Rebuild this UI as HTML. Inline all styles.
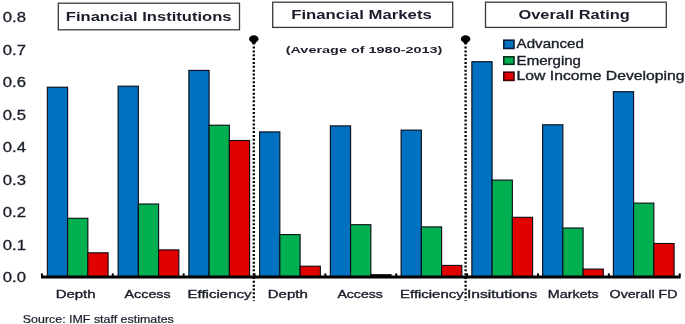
<!DOCTYPE html>
<html><head><meta charset="utf-8"><style>
html,body{margin:0;padding:0;background:#fff;}
body{width:685px;height:324px;overflow:hidden;position:relative;font-family:"Liberation Sans",sans-serif;}
svg{position:absolute;left:0;top:0;filter:blur(0.35px);}
text{font-family:"Liberation Sans",sans-serif;fill:#1a1e2a;}
</style></head><body>
<svg width="685" height="324" viewBox="0 0 685 324">

<rect x="47.35" y="87.20" width="20.25" height="189.30" fill="#0070C0" stroke="#0a0a14" stroke-width="1.1"/>
<rect x="67.60" y="218.30" width="20.25" height="58.20" fill="#00B050" stroke="#0a0a14" stroke-width="1.1"/>
<rect x="87.85" y="252.80" width="20.25" height="23.70" fill="#E00000" stroke="#0a0a14" stroke-width="1.1"/>
<rect x="118.10" y="86.20" width="20.25" height="190.30" fill="#0070C0" stroke="#0a0a14" stroke-width="1.1"/>
<rect x="138.35" y="204.00" width="20.25" height="72.50" fill="#00B050" stroke="#0a0a14" stroke-width="1.1"/>
<rect x="158.60" y="249.90" width="20.25" height="26.60" fill="#E00000" stroke="#0a0a14" stroke-width="1.1"/>
<rect x="188.85" y="70.40" width="20.25" height="206.10" fill="#0070C0" stroke="#0a0a14" stroke-width="1.1"/>
<rect x="209.10" y="125.20" width="20.25" height="151.30" fill="#00B050" stroke="#0a0a14" stroke-width="1.1"/>
<rect x="229.35" y="140.50" width="20.25" height="136.00" fill="#E00000" stroke="#0a0a14" stroke-width="1.1"/>
<rect x="259.60" y="131.90" width="20.25" height="144.60" fill="#0070C0" stroke="#0a0a14" stroke-width="1.1"/>
<rect x="279.85" y="234.60" width="20.25" height="41.90" fill="#00B050" stroke="#0a0a14" stroke-width="1.1"/>
<rect x="300.10" y="266.20" width="20.25" height="10.30" fill="#E00000" stroke="#0a0a14" stroke-width="1.1"/>
<rect x="330.35" y="125.90" width="20.25" height="150.60" fill="#0070C0" stroke="#0a0a14" stroke-width="1.1"/>
<rect x="350.60" y="224.70" width="20.25" height="51.80" fill="#00B050" stroke="#0a0a14" stroke-width="1.1"/>
<rect x="370.85" y="274.70" width="20.25" height="1.80" fill="#200" stroke="#0a0a14" stroke-width="1.1"/>
<rect x="401.10" y="130.10" width="20.25" height="146.40" fill="#0070C0" stroke="#0a0a14" stroke-width="1.1"/>
<rect x="421.35" y="226.90" width="20.25" height="49.60" fill="#00B050" stroke="#0a0a14" stroke-width="1.1"/>
<rect x="441.60" y="265.40" width="20.25" height="11.10" fill="#E00000" stroke="#0a0a14" stroke-width="1.1"/>
<rect x="471.85" y="61.70" width="20.25" height="214.80" fill="#0070C0" stroke="#0a0a14" stroke-width="1.1"/>
<rect x="492.10" y="180.10" width="20.25" height="96.40" fill="#00B050" stroke="#0a0a14" stroke-width="1.1"/>
<rect x="512.35" y="217.30" width="20.25" height="59.20" fill="#E00000" stroke="#0a0a14" stroke-width="1.1"/>
<rect x="542.60" y="124.80" width="20.25" height="151.70" fill="#0070C0" stroke="#0a0a14" stroke-width="1.1"/>
<rect x="562.85" y="228.00" width="20.25" height="48.50" fill="#00B050" stroke="#0a0a14" stroke-width="1.1"/>
<rect x="583.10" y="269.10" width="20.25" height="7.40" fill="#E00000" stroke="#0a0a14" stroke-width="1.1"/>
<rect x="613.35" y="91.70" width="20.25" height="184.80" fill="#0070C0" stroke="#0a0a14" stroke-width="1.1"/>
<rect x="633.60" y="203.10" width="20.25" height="73.40" fill="#00B050" stroke="#0a0a14" stroke-width="1.1"/>
<rect x="653.85" y="243.50" width="20.25" height="33.00" fill="#E00000" stroke="#0a0a14" stroke-width="1.1"/>
<rect x="41.00" y="275.50" width="639.60" height="3.0" fill="#000"/>
<rect x="40.90" y="273.40" width="2" height="3" fill="#000"/>
<rect x="111.77" y="273.40" width="2" height="3" fill="#000"/>
<rect x="182.64" y="273.40" width="2" height="3" fill="#000"/>
<rect x="253.51" y="273.40" width="2" height="3" fill="#000"/>
<rect x="324.38" y="273.40" width="2" height="3" fill="#000"/>
<rect x="395.25" y="273.40" width="2" height="3" fill="#000"/>
<rect x="466.12" y="273.40" width="2" height="3" fill="#000"/>
<rect x="536.99" y="273.40" width="2" height="3" fill="#000"/>
<rect x="607.86" y="273.40" width="2" height="3" fill="#000"/>
<rect x="678.73" y="273.40" width="2" height="3" fill="#000"/>
<line x1="253.80" y1="46.6" x2="253.80" y2="300.7" stroke="#000" stroke-width="2.3" stroke-dasharray="2,1.84"/>
<path d="M250.60 40 L257.00 40 L254.90 44.6 L252.70 44.6 Z" fill="#000"/>
<ellipse cx="253.80" cy="38.9" rx="4.8" ry="3.55" fill="#000"/>
<line x1="465.60" y1="46.6" x2="465.60" y2="300.7" stroke="#000" stroke-width="2.3" stroke-dasharray="2,1.84"/>
<path d="M462.40 40 L468.80 40 L466.70 44.6 L464.50 44.6 Z" fill="#000"/>
<ellipse cx="465.60" cy="38.9" rx="4.8" ry="3.55" fill="#000"/>
<text x="2.80" y="282.30" font-size="14" textLength="23.20" lengthAdjust="spacingAndGlyphs" stroke="#1a1e2a" stroke-width="0.3">0.0</text>
<text x="2.80" y="249.79" font-size="14" textLength="23.20" lengthAdjust="spacingAndGlyphs" stroke="#1a1e2a" stroke-width="0.3">0.1</text>
<text x="2.80" y="217.28" font-size="14" textLength="23.20" lengthAdjust="spacingAndGlyphs" stroke="#1a1e2a" stroke-width="0.3">0.2</text>
<text x="2.80" y="184.77" font-size="14" textLength="23.20" lengthAdjust="spacingAndGlyphs" stroke="#1a1e2a" stroke-width="0.3">0.3</text>
<text x="2.80" y="152.26" font-size="14" textLength="23.20" lengthAdjust="spacingAndGlyphs" stroke="#1a1e2a" stroke-width="0.3">0.4</text>
<text x="2.80" y="119.75" font-size="14" textLength="23.20" lengthAdjust="spacingAndGlyphs" stroke="#1a1e2a" stroke-width="0.3">0.5</text>
<text x="2.80" y="87.24" font-size="14" textLength="23.20" lengthAdjust="spacingAndGlyphs" stroke="#1a1e2a" stroke-width="0.3">0.6</text>
<text x="2.80" y="54.73" font-size="14" textLength="23.20" lengthAdjust="spacingAndGlyphs" stroke="#1a1e2a" stroke-width="0.3">0.7</text>
<text x="2.80" y="22.22" font-size="14" textLength="23.20" lengthAdjust="spacingAndGlyphs" stroke="#1a1e2a" stroke-width="0.3">0.8</text>
<text x="55.70" y="297.60" font-size="11.1" textLength="39.90" lengthAdjust="spacingAndGlyphs" stroke="#1a1e2a" stroke-width="0.35">Depth</text>
<text x="124.60" y="297.60" font-size="11.1" textLength="46.00" lengthAdjust="spacingAndGlyphs" stroke="#1a1e2a" stroke-width="0.35">Access</text>
<text x="187.50" y="297.60" font-size="11.1" textLength="64.10" lengthAdjust="spacingAndGlyphs" stroke="#1a1e2a" stroke-width="0.35">Efficiency</text>
<text x="267.70" y="297.60" font-size="11.1" textLength="40.10" lengthAdjust="spacingAndGlyphs" stroke="#1a1e2a" stroke-width="0.35">Depth</text>
<text x="337.40" y="297.60" font-size="11.1" textLength="45.50" lengthAdjust="spacingAndGlyphs" stroke="#1a1e2a" stroke-width="0.35">Access</text>
<text x="400.10" y="297.60" font-size="11.1" textLength="63.50" lengthAdjust="spacingAndGlyphs" stroke="#1a1e2a" stroke-width="0.35">Efficiency</text>
<text x="466.90" y="297.60" font-size="11.1" textLength="70.50" lengthAdjust="spacingAndGlyphs" stroke="#1a1e2a" stroke-width="0.35">Insitutions</text>
<text x="547.80" y="297.60" font-size="11.1" textLength="50.80" lengthAdjust="spacingAndGlyphs" stroke="#1a1e2a" stroke-width="0.35">Markets</text>
<text x="609.60" y="297.60" font-size="11.1" textLength="67.80" lengthAdjust="spacingAndGlyphs" stroke="#1a1e2a" stroke-width="0.35">Overall FD</text>
<rect x="58.3" y="3.2" width="181.20" height="26.60" fill="#fff" stroke="#3a3a3a" stroke-width="1.3"/>
<text x="65.80" y="20.80" font-size="12.1" textLength="165.70" lengthAdjust="spacingAndGlyphs" font-weight="bold">Financial Institutions</text>
<rect x="272.7" y="2.2" width="180.00" height="25.20" fill="#fff" stroke="#3a3a3a" stroke-width="1.3"/>
<text x="291.20" y="18.60" font-size="12.1" textLength="140.60" lengthAdjust="spacingAndGlyphs" font-weight="bold">Financial Markets</text>
<rect x="485.5" y="2.2" width="180.80" height="25.20" fill="#fff" stroke="#3a3a3a" stroke-width="1.3"/>
<text x="518.40" y="18.60" font-size="12.1" textLength="111.50" lengthAdjust="spacingAndGlyphs" font-weight="bold">Overall Rating</text>
<text x="285.70" y="52.70" font-size="9.9" textLength="156.70" lengthAdjust="spacingAndGlyphs" font-weight="bold">(Average of 1980-2013)</text>
<rect x="503.8" y="40.2" width="10.2" height="8.30" fill="#0070C0" stroke="#06203e" stroke-width="1.6"/>
<text x="516.60" y="48.10" font-size="12.6" textLength="67.20" lengthAdjust="spacingAndGlyphs" stroke="#1a1e2a" stroke-width="0.35">Advanced</text>
<rect x="503.8" y="56.8" width="10.2" height="7.50" fill="#00B050" stroke="#06301a" stroke-width="1.6"/>
<text x="516.60" y="64.50" font-size="12.6" textLength="64.40" lengthAdjust="spacingAndGlyphs" stroke="#1a1e2a" stroke-width="0.35">Emerging</text>
<rect x="503.8" y="72.2" width="10.2" height="8.20" fill="#E00000" stroke="#400606" stroke-width="1.6"/>
<text x="516.60" y="79.80" font-size="12.6" textLength="168.00" lengthAdjust="spacingAndGlyphs" stroke="#1a1e2a" stroke-width="0.35">Low Income Developing</text>
<text x="22.80" y="322.90" font-size="10.3" textLength="151.00" lengthAdjust="spacingAndGlyphs" stroke="#1a1e2a" stroke-width="0.2">Source: IMF staff estimates</text>
</svg></body></html>
